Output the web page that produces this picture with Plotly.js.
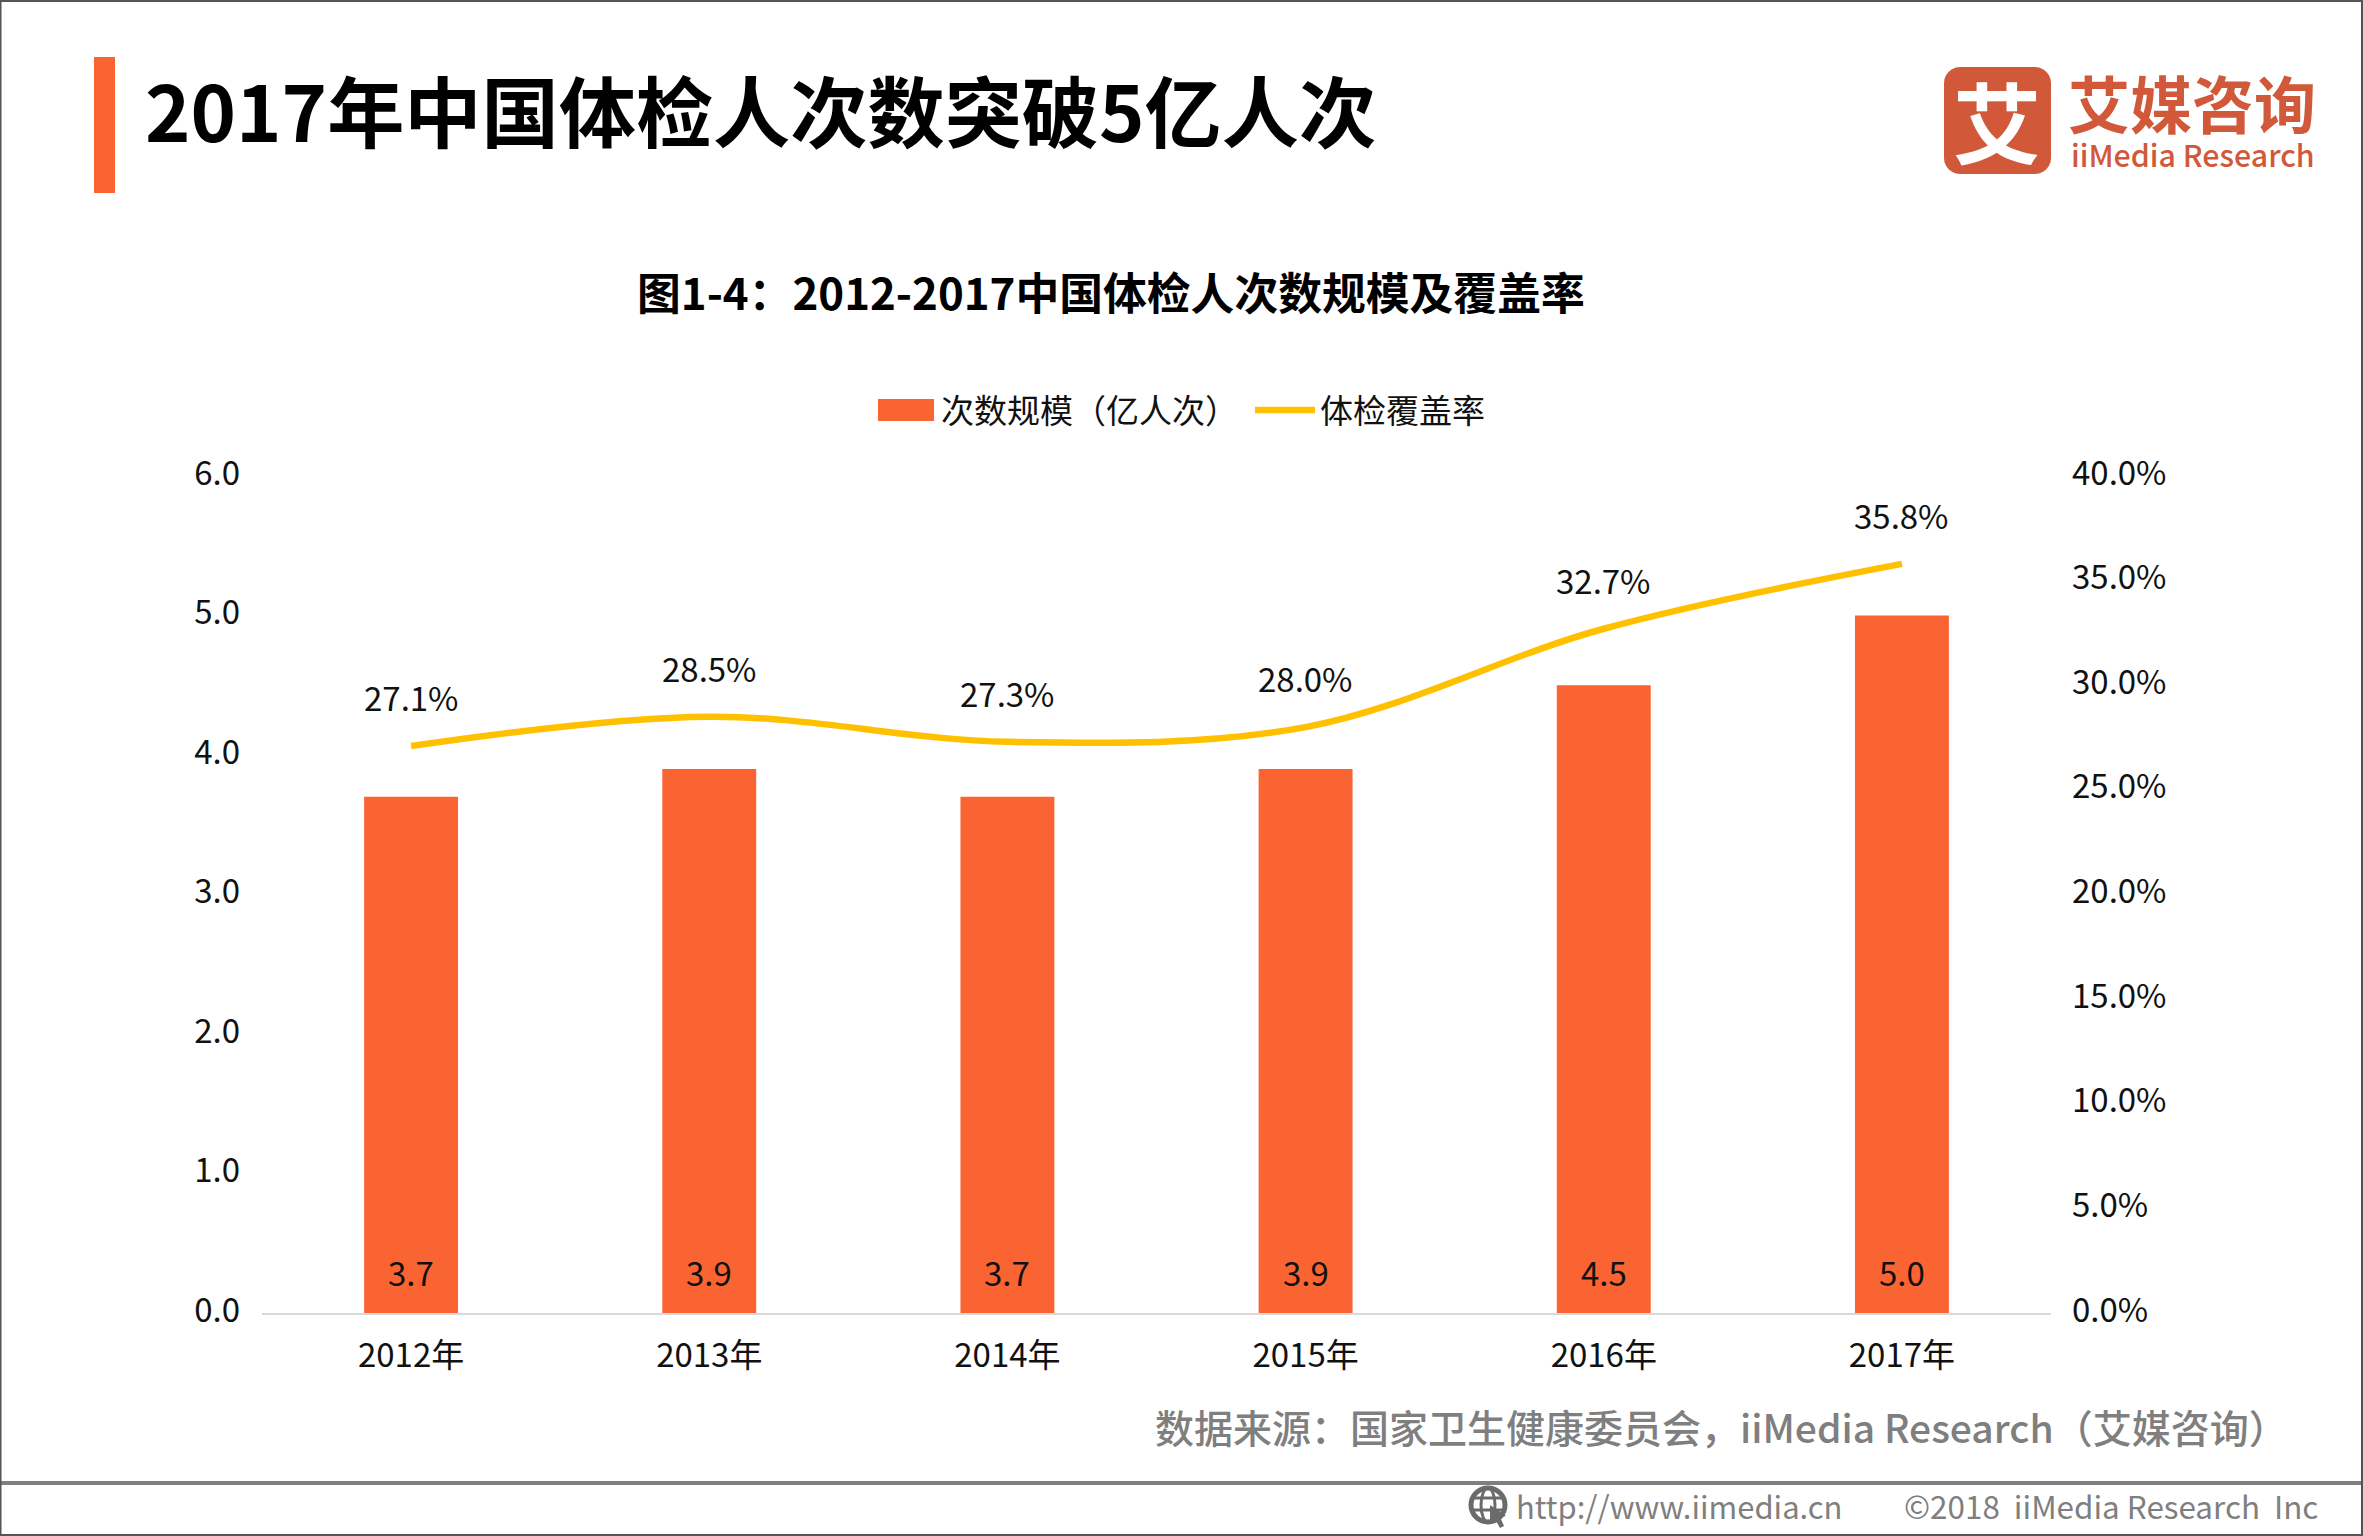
<!DOCTYPE html>
<html><head><meta charset="utf-8">
<script src="https://cdn.plot.ly/plotly-3.0.1.min.js"></script>
<style>html,body{margin:0;padding:0;background:#fff}</style></head>
<body><div id="chart" style="width:2363px;height:1536px"></div>
<script>
const categories = ['2012年','2013年','2014年','2015年','2016年','2017年'];
const visits = [3.7,3.9,3.7,3.9,4.5,5.0];
const coverage = [27.1,28.5,27.3,28.0,32.7,35.8];
const seriesNames = ['次数规模（亿人次）','体检覆盖率'];
const heading = '2017年中国体检人次数突破5亿人次';
const subtitle = '图1-4：2012-2017中国体检人次数规模及覆盖率';
const source = '数据来源：国家卫生健康委员会，iiMedia Research（艾媒咨询）';
const site = 'http://www.iimedia.cn';
const copyright = '©2018\u00A0\u00A0iiMedia Research\u00A0\u00A0Inc';

const W=2363,H=1536,L=262,R=2051,T=476,B=1313;
const fx=x=>(x-L)/(R-L), fy=y=>(B-y)/(B-T);
const CJK='"Noto Sans CJK SC","Noto Sans",sans-serif';
const ORANGE='#FA6432',GOLD='#FFC000',GREY='#7F7F7F',LOGO='#D1593A',INK='#111111';
const note=(text,x,y,size,color,anchor,weight)=>({text,x:fx(x),y:fy(y),xref:'paper',yref:'paper',xanchor:anchor||'left',yanchor:'middle',showarrow:false,font:{family:CJK,size,color,weight:weight||400}});
const rect=(x0,y0,x1,y1,fill)=>({type:'rect',xref:'paper',yref:'paper',x0:fx(x0),x1:fx(x1),y0:fy(y0),y1:fy(y1),fillcolor:fill,line:{width:0},layer:'below'});
const path=(pts,fill,lineColor,lw)=>({type:'path',xref:'paper',yref:'paper',path:pts.map((p,i)=>(i?'L':'M')+fx(p[0])+','+fy(p[1])).join(' ')+(fill?' Z':''),fillcolor:fill||'rgba(0,0,0,0)',line:{color:lineColor||'rgba(0,0,0,0)',width:lw||0}});
const rr=(x0,y0,x1,y1,r)=>{const k=[];for(const [cx,cy,a0] of [[x1-r,y0+r,-90],[x1-r,y1-r,0],[x0+r,y1-r,90],[x0+r,y0+r,180]])for(let a=0;a<=90;a+=15){const t=(a0+a)*Math.PI/180;k.push([cx+r*Math.cos(t),cy+r*Math.sin(t)]);}return k;};

const traces=[
 {type:'bar',name:seriesNames[0],x:categories,y:visits,yaxis:'y',marker:{color:ORANGE},cliponaxis:false,hoverinfo:'skip'},
 {type:'scatter',mode:'lines',name:seriesNames[1],x:categories,y:coverage,yaxis:'y2',
  line:{color:GOLD,width:6.5,shape:'spline',smoothing:1},hoverinfo:'skip'}
];
const pctLabels=categories.map((c,i)=>({text:coverage[i].toFixed(1)+'%',x:c,y:coverage[i],xref:'x',yref:'y2',yshift:49,xanchor:'center',yanchor:'middle',showarrow:false,font:{family:CJK,size:33,color:INK}}));
const barLabels=categories.map((c,i)=>({text:visits[i].toFixed(1),x:c,y:0,xref:'x',yref:'y',yshift:41,xanchor:'center',yanchor:'middle',showarrow:false,font:{family:CJK,size:33,color:INK}}));

const layout={
 width:W,height:H,paper_bgcolor:'#fff',plot_bgcolor:'#fff',
 margin:{l:L,r:W-R,t:T,b:H-B,autoexpand:false},
 title:{text:heading,x:145/W,xref:'container',xanchor:'left',y:1-115/H,yref:'container',yanchor:'middle',font:{family:CJK,size:77.2,color:'#000',weight:700}},
 bargap:0.685,
 xaxis:{type:'category',showgrid:false,zeroline:false,showline:true,linecolor:'#D9D9D9',linewidth:2,ticks:'',ticklabelstandoff:12,tickfont:{family:CJK,size:33,color:INK}},
 yaxis:{range:[0,6],dtick:1,tickformat:'.1f',showgrid:false,zeroline:false,showline:false,ticks:'',ticklabelstandoff:21,ticklabelshift:-3,tickfont:{family:CJK,size:33,color:INK}},
 yaxis2:{range:[0,40],dtick:5,tickformat:'.1f',ticksuffix:'%',overlaying:'y',side:'right',showgrid:false,zeroline:false,showline:false,ticks:'',ticklabelstandoff:20,ticklabelshift:-3,tickfont:{family:CJK,size:33,color:INK}},
 showlegend:true,
 legend:{orientation:'h',x:fx(871),xanchor:'left',y:fy(410),yanchor:'middle',itemwidth:60,entrywidth:304,entrywidthmode:'pixels',traceorder:'normal',font:{family:CJK,size:33,color:INK},bgcolor:'rgba(0,0,0,0)'},
 shapes:[
  rect(94,57,115,193,ORANGE),
  rect(0,1481,W,1485,GREY),
  {type:'rect',xref:'paper',yref:'paper',x0:fx(0.5),x1:fx(W-1),y0:fy(1),y1:fy(H-1),line:{color:'#555',width:2},fillcolor:'rgba(0,0,0,0)'},
  path(rr(1944,67,2051,174,16),LOGO),
  {type:'circle',xref:'paper',yref:'paper',x0:fx(1471),x1:fx(1505),y0:fy(1488),y1:fy(1522),line:{color:'#6b6b6b',width:5},fillcolor:'rgba(0,0,0,0)'},
  {type:'circle',xref:'paper',yref:'paper',x0:fx(1481),x1:fx(1495),y0:fy(1488),y1:fy(1522),line:{color:'#6b6b6b',width:3},fillcolor:'rgba(0,0,0,0)'},
  path([[1473,1498],[1503,1498]],null,'#6b6b6b',3),
  path([[1473,1510],[1503,1510]],null,'#6b6b6b',3),
  path([[1490,1505],[1490,1524],[1495,1519],[1500,1528],[1504,1526],[1500,1517],[1506,1516]],'#6b6b6b')
 ],
 annotations:[
  ...barLabels,
  ...pctLabels,
  note(subtitle,(637+1585)/2,291,43.8,'#000','center',700),
  note('艾',1997,118,88,'#fff','center',700),
  note('艾媒咨询',2192,102,62,LOGO,'center',700),
  note('iiMedia Research',2193,154,30.3,LOGO,'center',500),
  note(source,1153,1426,39,GREY,'left',500),
  note(site,1514,1505,31,GREY,'left',400),
  note(copyright,1902,1505,31.4,GREY,'left',400)
 ]
};
Plotly.newPlot('chart',traces,layout,{displayModeBar:false,staticPlot:true}).then(gd=>{
 const fix=()=>gd.querySelectorAll('.legend .legendpoints path').forEach(p=>{
  const d=p.getAttribute('d')||'';
  if(/^M\s*6/.test(d)||p.classList.contains('legendbar')||p.classList.contains('legendbox')){
   p.setAttribute('d','M-28,-11H28V11H-28Z');
  }
 });
 fix();
 requestAnimationFrame(fix);
 setTimeout(fix,50);
});
</script></body></html>
